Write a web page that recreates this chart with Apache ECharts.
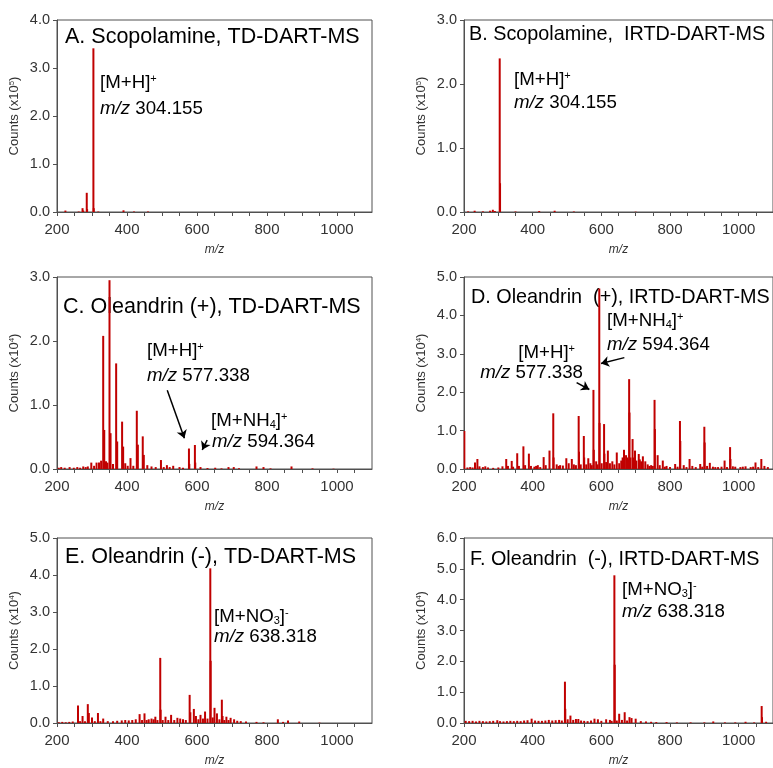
<!DOCTYPE html>
<html>
<head>
<meta charset="utf-8">
<script src="https://cdn.jsdelivr.net/npm/echarts@6/dist/echarts.min.js"></script>
<style>
html, body { margin: 0; padding: 0; background: #fff; }
#main { width: 773px; height: 768px; }
</style>
</head>
<body>
<div id="main"></div>
<script>
// peaks: [m/z, counts]
var peaksA = [[224, 0.03], [262, 0.01], [273, 0.08], [275, 0.03], [285, 0.40], [286, 0.06],
  [304, 3.41], [305, 0.08], [318, 0.01], [390, 0.035], [420, 0.01], [460, 0.01]];

var peaksB = [[212, 0.01], [231, 0.02], [255, 0.01], [276, 0.02], [284, 0.035], [290, 0.015],
  [304, 2.40], [305, 0.45], [350, 0.008], [419, 0.015], [464, 0.02], [520, 0.008], [700, 0.005]];

var peaksC = [[205, 0.02], [212, 0.03], [222, 0.02], [236, 0.03], [248, 0.02], [258, 0.03],
  [266, 0.02], [275, 0.04], [282, 0.03], [288, 0.04], [298, 0.10], [306, 0.05], [313, 0.10],
  [320, 0.10], [326, 0.13], [332, 2.08], [335, 0.61], [340, 0.12], [344, 0.10], [350, 2.95],
  [353, 0.56], [360, 0.08], [369, 1.65], [372, 0.43], [386, 0.74], [389, 0.35], [395, 0.09],
  [402, 0.05], [410, 0.17], [418, 0.05], [428, 0.91], [431, 0.38], [445, 0.51], [448, 0.22],
  [458, 0.06], [470, 0.04], [482, 0.03], [497, 0.14], [505, 0.03], [514, 0.06], [522, 0.03],
  [532, 0.05], [550, 0.03], [560, 0.02], [577, 0.32], [578, 0.08], [594, 0.375], [595, 0.10],
  [610, 0.03], [630, 0.015], [652, 0.02], [670, 0.01], [690, 0.03], [705, 0.03], [720, 0.01],
  [770, 0.04], [790, 0.03], [810, 0.01], [870, 0.04], [930, 0.01], [990, 0.005]];

var peaksD = [[201, 0.99], [210, 0.04], [218, 0.05], [225, 0.04], [232, 0.17], [239, 0.26],
  [245, 0.07], [255, 0.05], [262, 0.07], [270, 0.04], [285, 0.03], [300, 0.04], [312, 0.07],
  [323, 0.26], [328, 0.08], [339, 0.21], [343, 0.06], [355, 0.41], [360, 0.08], [373, 0.59],
  [378, 0.10], [389, 0.40], [395, 0.08], [405, 0.06], [410, 0.08], [415, 0.10], [422, 0.05],
  [432, 0.31], [438, 0.10], [449, 0.48], [460, 1.45], [461, 0.30], [470, 0.12], [476, 0.08],
  [480, 0.10], [488, 0.09], [498, 0.28], [505, 0.15], [514, 0.26], [520, 0.12], [526, 0.10],
  [534, 1.38], [535, 0.45], [540, 0.12], [549, 0.86], [550, 0.30], [556, 0.12], [562, 0.28],
  [568, 0.15], [572, 0.10], [577, 2.06], [578, 0.50], [585, 0.20], [589, 0.12], [594, 4.70],
  [595, 1.20], [601, 0.15], [608, 1.17], [609, 0.40], [614, 0.18], [619, 0.48], [625, 0.15],
  [632, 0.20], [638, 0.12], [645, 0.43], [652, 0.15], [658, 0.22], [662, 0.30], [666, 0.50],
  [672, 0.36], [675, 0.30], [678, 0.25], [681, 2.34], [682, 1.47], [685, 0.30], [691, 0.78],
  [694, 0.30], [698, 0.48], [702, 0.22], [709, 0.39], [712, 0.25], [716, 0.20], [721, 0.33],
  [728, 0.20], [735, 0.12], [740, 0.08], [745, 0.10], [750, 0.08], [755, 1.80], [756, 1.04],
  [764, 0.36], [770, 0.10], [779, 0.22], [785, 0.06], [790, 0.08], [800, 0.05], [815, 0.13],
  [822, 0.06], [829, 1.25], [830, 0.73], [840, 0.10], [848, 0.05], [857, 0.26], [865, 0.08],
  [875, 0.05], [888, 0.13], [894, 0.06], [900, 1.10], [901, 0.69], [908, 0.08], [916, 0.16],
  [925, 0.06], [932, 0.05], [940, 0.05], [950, 0.06], [959, 0.22], [966, 0.05], [975, 0.57],
  [976, 0.26], [983, 0.07], [990, 0.06], [1005, 0.05], [1012, 0.06], [1020, 0.07], [1035, 0.05],
  [1042, 0.06], [1049, 0.17], [1057, 0.05], [1066, 0.26], [1075, 0.08], [1085, 0.05]];

var peaksE = [[205, 0.02], [215, 0.03], [225, 0.02], [235, 0.03], [245, 0.04], [260, 0.47],
  [266, 0.05], [273, 0.19], [280, 0.05], [288, 0.51], [291, 0.27], [300, 0.15], [308, 0.05],
  [317, 0.27], [324, 0.05], [332, 0.12], [345, 0.05], [360, 0.05], [372, 0.06], [385, 0.07],
  [395, 0.08], [405, 0.07], [415, 0.08], [425, 0.10], [436, 0.24], [443, 0.08], [450, 0.26],
  [456, 0.08], [462, 0.10], [470, 0.12], [476, 0.10], [481, 0.17], [487, 0.08], [495, 1.76],
  [496, 0.36], [502, 0.08], [510, 0.17], [518, 0.08], [526, 0.22], [535, 0.08], [544, 0.14],
  [552, 0.12], [560, 0.10], [568, 0.08], [579, 0.76], [581, 0.29], [591, 0.38], [597, 0.19],
  [604, 0.10], [610, 0.22], [617, 0.12], [623, 0.31], [630, 0.12], [638, 4.18], [639, 1.68],
  [645, 0.15], [650, 0.41], [657, 0.26], [664, 0.10], [671, 0.63], [673, 0.19], [678, 0.08],
  [684, 0.17], [690, 0.08], [696, 0.14], [706, 0.10], [715, 0.06], [725, 0.05], [740, 0.04],
  [770, 0.03], [790, 0.02], [831, 0.10], [846, 0.03], [860, 0.07], [892, 0.04], [950, 0.01]];

var peaksF = [[205, 0.07], [215, 0.06], [225, 0.07], [235, 0.05], [245, 0.07], [255, 0.06],
  [265, 0.05], [275, 0.06], [285, 0.07], [297, 0.09], [305, 0.06], [315, 0.05], [325, 0.06],
  [335, 0.07], [345, 0.06], [355, 0.07], [365, 0.06], [375, 0.08], [385, 0.09], [397, 0.14],
  [407, 0.08], [417, 0.07], [427, 0.07], [437, 0.08], [447, 0.10], [457, 0.08], [467, 0.09],
  [477, 0.10], [485, 0.08], [494, 1.34], [495, 0.46], [502, 0.12], [510, 0.24], [518, 0.10],
  [526, 0.13], [533, 0.13], [541, 0.08], [550, 0.07], [560, 0.06], [570, 0.08], [580, 0.14],
  [590, 0.12], [600, 0.07], [614, 0.12], [625, 0.10], [630, 0.07], [638, 4.79], [639, 1.89],
  [645, 0.08], [652, 0.30], [660, 0.10], [668, 0.35], [675, 0.08], [682, 0.19], [688, 0.16],
  [700, 0.14], [715, 0.06], [730, 0.05], [745, 0.04], [760, 0.03], [790, 0.03], [820, 0.02],
  [860, 0.02], [900, 0.02], [926, 0.05], [960, 0.02], [990, 0.02], [1020, 0.04], [1045, 0.02],
  [1067, 0.55], [1068, 0.19], [1080, 0.04]];

var allPeaks = [peaksA, peaksB, peaksC, peaksD, peaksE, peaksF];
var panelTitles = ['A. Scopolamine, TD-DART-MS', 'B. Scopolamine,  IRTD-DART-MS',
  'C. Oleandrin (+), TD-DART-MS', 'D. Oleandrin  (+), IRTD-DART-MS',
  'E. Oleandrin (-), TD-DART-MS', 'F. Oleandrin  (-), IRTD-DART-MS'];
var yMax = [4, 3, 3, 5, 5, 6];
var yExp = ['5', '5', '4', '4', '4', '4'];
var xTickLabels = [200, 400, 600, 800, 1000];

// arrows, in data coords: [fromMz, fromY, toMz, toY]
var arrowsC = [[515, 1.23, 564, 0.48], [629, 0.45, 615, 0.30]];
var arrowsD = [[667, 2.90, 599, 2.75], [528, 2.25, 565, 2.07]];
var allArrows = [[], [], arrowsC, arrowsD, [], []];

var FONT = "'Liberation Sans', Arial, sans-serif";
var RED = '#c00000';
var AXIS = '#505050';

var gridPos = [
  { left: 57, top: 20, width: 315, height: 192 },
  { left: 464, top: 20, width: 315, height: 192 },
  { left: 57, top: 277, width: 315, height: 192 },
  { left: 464, top: 277, width: 315, height: 192 },
  { left: 57, top: 538, width: 315, height: 189 },
  { left: 464, top: 538, width: 315, height: 189 }
];
var titlePos = [[65, 37], [469, 35], [63, 307], [471, 298], [65, 557], [470, 560]];
var titleSize = [21.5, 19.8, 21.5, 19.8, 21.5, 19.8];

var grids = [], xAxes = [], yAxes = [], series = [];

for (var i = 0; i < 6; i++) {
  var g = gridPos[i];
  grids.push({
    left: g.left, top: g.top, width: g.width, height: g.height,
    show: true, borderColor: AXIS, borderWidth: 1, backgroundColor: 'transparent'
  });
  xAxes.push({
    type: 'value', gridIndex: i, min: 200, max: 1100, interval: 50,
    name: 'm/z', nameLocation: 'middle', nameGap: 32,
    nameTextStyle: { fontFamily: FONT, fontSize: 12, fontStyle: 'italic', color: '#333' },
    axisLine: { show: true, lineStyle: { color: AXIS, width: 1 } },
    axisTick: { show: true, length: 4, lineStyle: { color: AXIS } },
    splitLine: { show: false },
    axisLabel: {
      margin: 10, fontFamily: FONT, fontSize: 15, color: '#333',
      showMaxLabel: false,
      formatter: function (v) { return xTickLabels.indexOf(v) >= 0 ? String(v) : ''; }
    }
  });
  yAxes.push({
    type: 'value', gridIndex: i, min: 0, max: yMax[i], interval: 1,
    name: '{a|Counts (x10}{s|' + yExp[i] + '}{a|)}',
    nameLocation: 'middle', nameGap: 36,
    nameTextStyle: {
      rich: {
        a: { fontFamily: FONT, fontSize: 13, color: '#333' },
        s: { fontFamily: FONT, fontSize: 8, color: '#333', verticalAlign: 'top' }
      }
    },
    axisLine: { show: true, lineStyle: { color: AXIS, width: 1 } },
    axisTick: { show: true, length: 4, lineStyle: { color: AXIS } },
    splitLine: { show: false },
    axisLabel: {
      margin: 7, fontFamily: FONT, fontSize: 14.5, color: '#333',
      formatter: function (v) { return v.toFixed(1); }
    }
  });
  var s = {
    type: 'bar', xAxisIndex: i, yAxisIndex: i,
    data: allPeaks[i], barWidth: 2,
    itemStyle: { color: RED },
    silent: true
  };
  if (allArrows[i].length) {
    s.markLine = {
      silent: true, symbol: ['none', 'arrow'], symbolSize: 8,
      label: { show: false },
      lineStyle: { color: '#000', width: 1.5, type: 'solid' },
      data: allArrows[i].map(function (a) {
        return [{ coord: [a[0], a[1]] }, { coord: [a[2], a[3]] }];
      })
    };
  }
  series.push(s);
}

var richAnn = {
  sup: { fontFamily: FONT, fontSize: 11, verticalAlign: 'top', fill: '#000' },
  sub: { fontFamily: FONT, fontSize: 11, verticalAlign: 'bottom', fill: '#000' },
  i: { fontFamily: FONT, fontSize: 18.7, fontStyle: 'italic', fill: '#000' }
};

function ann(x, y, text, align) {
  return {
    type: 'text', x: x, y: y, silent: true,
    style: {
      text: text, fill: '#000', fontFamily: FONT, fontSize: 18.7,
      align: align || 'left', verticalAlign: 'middle', rich: richAnn
    }
  };
}

var graphics = [];
for (var j = 0; j < 6; j++) {
  graphics.push({
    type: 'text', x: titlePos[j][0], y: titlePos[j][1], silent: true,
    style: { text: panelTitles[j], fill: '#000', fontFamily: FONT, fontSize: titleSize[j], verticalAlign: 'middle' }
  });
}
graphics.push(
  ann(100, 83, '[M+H]{sup|+}'), ann(100, 109, '{i|m/z} 304.155'),
  ann(514, 80, '[M+H]{sup|+}'), ann(514, 103, '{i|m/z} 304.155'),
  ann(147, 351, '[M+H]{sup|+}'), ann(147, 376, '{i|m/z} 577.338'),
  ann(211, 421, '[M+NH{sub|4}]{sup|+}'), ann(212, 442, '{i|m/z} 594.364'),
  ann(607, 321, '[M+NH{sub|4}]{sup|+}'), ann(607, 345, '{i|m/z} 594.364'),
  ann(575, 353, '[M+H]{sup|+}', 'right'), ann(583, 373, '{i|m/z} 577.338', 'right'),
  ann(214, 617, '[M+NO{sub|3}]{sup|-}'), ann(214, 637, '{i|m/z} 638.318'),
  ann(622, 590, '[M+NO{sub|3}]{sup|-}'), ann(622, 612, '{i|m/z} 638.318')
);

var chart = echarts.init(document.getElementById('main'), null, { renderer: 'canvas' });
chart.setOption({
  animation: false,
  backgroundColor: '#fff',
  grid: grids,
  xAxis: xAxes,
  yAxis: yAxes,
  series: series,
  graphic: graphics
});
</script>
</body>
</html>
